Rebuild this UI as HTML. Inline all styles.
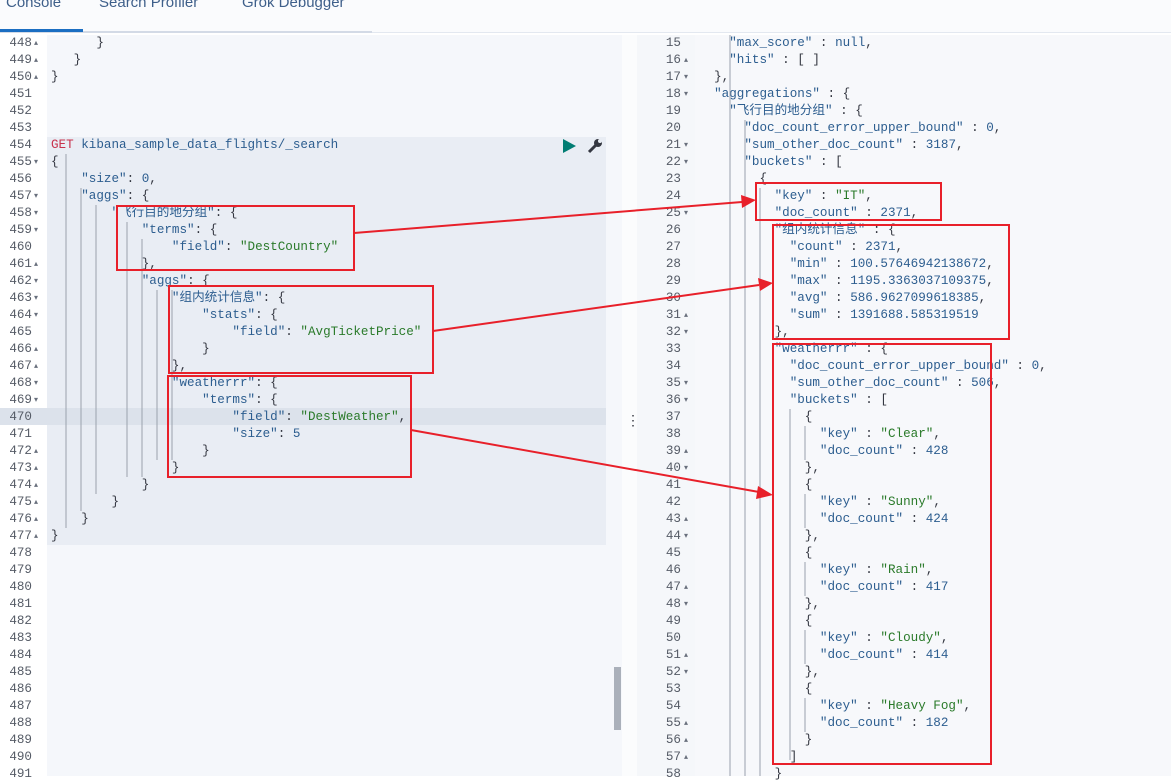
<!DOCTYPE html>
<html><head><meta charset="utf-8"><style>
body{margin:0;width:1171px;height:776px;overflow:hidden;background:#fff;position:relative;font-family:"Liberation Mono","Noto Sans CJK SC",monospace;}
.abs{position:absolute}
pre{margin:0;font-family:"Liberation Mono","Noto Sans CJK SC",monospace;font-size:12.6px;line-height:17px;color:#2c5d8f;position:absolute;white-space:pre}
.n{color:#555b66;text-align:right}
.s{color:#2a7a2a}
.g{color:#c8324d}
.p{color:#343741}
.tab{position:absolute;top:-6px;font-family:"Liberation Sans",sans-serif;font-size:15px;color:#3e5f8a}
</style></head><body>
<div class="abs" style="left:0;top:0;width:1171px;height:33px;background:#fafbfd"></div>
<div class="abs" style="left:0;top:31px;width:372px;height:2px;background:#d3dae6"></div>
<div class="abs" style="left:372px;top:32px;width:799px;height:1px;background:#e3e8f0"></div>
<div class="abs" style="left:0;top:29px;width:83px;height:3px;background:#1b6ec2"></div>
<div class="tab" style="left:6px">Console</div>
<div class="tab" style="left:99px">Search Profiler</div>
<div class="tab" style="left:242px">Grok Debugger</div>

<!-- left editor -->
<div class="abs" style="left:0;top:35px;width:47px;height:741px;background:#fff"></div>
<div class="abs" style="left:47px;top:35px;width:575px;height:741px;background:#f5f7fb"></div>
<div class="abs" style="left:47px;top:137px;width:559px;height:408px;background:#e9edf4"></div>
<div class="abs" style="left:0;top:408px;width:606px;height:17px;background:#dce2eb"></div>
<div class="abs" style="left:614px;top:667px;width:7px;height:63px;background:#aab0ba"></div>
<div class="abs" style="left:622px;top:35px;width:15px;height:741px;background:#fbfcfd"></div>
<div class="abs p" style="left:626px;top:412px;font-size:14px;font-family:'Liberation Sans',sans-serif">⋮</div>
<svg class="abs" style="left:560px;top:138px" width="50" height="18"><polygon points="3,1 3,15 16,8" fill="#017d73"/><path d="M29,14 L36,7" stroke="#343741" stroke-width="3"/><circle cx="38" cy="5" r="4" fill="#343741"/><circle cx="40" cy="3" r="2" fill="#e9edf4"/></svg>

<pre class="n" style="left:0;top:35px;width:32px">448
449
450
451
452
453
454
455
456
457
458
459
460
461
462
463
464
465
466
467
468
469
470
471
472
473
474
475
476
477
478
479
480
481
482
483
484
485
486
487
488
489
490
491</pre>
<pre style="left:34px;top:35px;font-size:8px;color:#69707d">▴
▴
▴



 
▾

▾
▾
▾

▴
▾
▾
▾

▴
▴
▾
▾


▴
▴
▴
▴
▴
▴</pre>
<pre class="p" style="left:51px;top:35px">      }
   }
}



<span class="g">GET</span> <span style="color:#2c5d8f">kibana_sample_data_flights/_search</span>
{
    <span style="color:#2c5d8f">"size"</span>: <span style="color:#2c5d8f">0</span>,
    <span style="color:#2c5d8f">"aggs"</span>: {
        <span style="color:#2c5d8f">"飞行目的地分组"</span>: {
            <span style="color:#2c5d8f">"terms"</span>: {
                <span style="color:#2c5d8f">"field"</span>: <span class="s">"DestCountry"</span>
            },
            <span style="color:#2c5d8f">"aggs"</span>: {
                <span style="color:#2c5d8f">"组内统计信息"</span>: {
                    <span style="color:#2c5d8f">"stats"</span>: {
                        <span style="color:#2c5d8f">"field"</span>: <span class="s">"AvgTicketPrice"</span>
                    }
                },
                <span style="color:#2c5d8f">"weatherrr"</span>: {
                    <span style="color:#2c5d8f">"terms"</span>: {
                        <span style="color:#2c5d8f">"field"</span>: <span class="s">"DestWeather"</span>,
                        <span style="color:#2c5d8f">"size"</span>: <span style="color:#2c5d8f">5</span>
                    }
                }
            }
        }
    }
}</pre>

<!-- right editor -->
<div class="abs" style="left:637px;top:35px;width:58px;height:741px;background:#f5f7fa"></div>
<div class="abs" style="left:695px;top:35px;width:476px;height:741px;background:#f7f8fb"></div>
<pre class="n" style="left:637px;top:35px;width:44px">15
16
17
18
19
20
21
22
23
24
25
26
27
28
29
30
31
32
33
34
35
36
37
38
39
40
41
42
43
44
45
46
47
48
49
50
51
52
53
54
55
56
57
58</pre>
<pre style="left:684px;top:35px;font-size:8px;color:#69707d">

▴
▾
▾


▾
▾


▾





▴
▾


▾
▾


▴
▾


▴
▾


▴
▾


▴
▾


▴
▴
▴</pre>
<pre class="p" style="left:699px;top:35px">    <span style="color:#2c5d8f">"max_score"</span> : <span style="color:#2c5d8f">null</span>,
    <span style="color:#2c5d8f">"hits"</span> : [ ]
  },
  <span style="color:#2c5d8f">"aggregations"</span> : {
    <span style="color:#2c5d8f">"飞行目的地分组"</span> : {
      <span style="color:#2c5d8f">"doc_count_error_upper_bound"</span> : <span style="color:#2c5d8f">0</span>,
      <span style="color:#2c5d8f">"sum_other_doc_count"</span> : <span style="color:#2c5d8f">3187</span>,
      <span style="color:#2c5d8f">"buckets"</span> : [
        {
          <span style="color:#2c5d8f">"key"</span> : <span class="s">"IT"</span>,
          <span style="color:#2c5d8f">"doc_count"</span> : <span style="color:#2c5d8f">2371</span>,
          <span style="color:#2c5d8f">"组内统计信息"</span> : {
            <span style="color:#2c5d8f">"count"</span> : <span style="color:#2c5d8f">2371</span>,
            <span style="color:#2c5d8f">"min"</span> : <span style="color:#2c5d8f">100.57646942138672</span>,
            <span style="color:#2c5d8f">"max"</span> : <span style="color:#2c5d8f">1195.3363037109375</span>,
            <span style="color:#2c5d8f">"avg"</span> : <span style="color:#2c5d8f">586.9627099618385</span>,
            <span style="color:#2c5d8f">"sum"</span> : <span style="color:#2c5d8f">1391688.585319519</span>
          },
          <span style="color:#2c5d8f">"weatherrr"</span> : {
            <span style="color:#2c5d8f">"doc_count_error_upper_bound"</span> : <span style="color:#2c5d8f">0</span>,
            <span style="color:#2c5d8f">"sum_other_doc_count"</span> : <span style="color:#2c5d8f">506</span>,
            <span style="color:#2c5d8f">"buckets"</span> : [
              {
                <span style="color:#2c5d8f">"key"</span> : <span class="s">"Clear"</span>,
                <span style="color:#2c5d8f">"doc_count"</span> : <span style="color:#2c5d8f">428</span>
              },
              {
                <span style="color:#2c5d8f">"key"</span> : <span class="s">"Sunny"</span>,
                <span style="color:#2c5d8f">"doc_count"</span> : <span style="color:#2c5d8f">424</span>
              },
              {
                <span style="color:#2c5d8f">"key"</span> : <span class="s">"Rain"</span>,
                <span style="color:#2c5d8f">"doc_count"</span> : <span style="color:#2c5d8f">417</span>
              },
              {
                <span style="color:#2c5d8f">"key"</span> : <span class="s">"Cloudy"</span>,
                <span style="color:#2c5d8f">"doc_count"</span> : <span style="color:#2c5d8f">414</span>
              },
              {
                <span style="color:#2c5d8f">"key"</span> : <span class="s">"Heavy Fog"</span>,
                <span style="color:#2c5d8f">"doc_count"</span> : <span style="color:#2c5d8f">182</span>
              }
            ]
          }</pre>

<svg class="abs" style="left:0;top:0" width="1171" height="776">
<g stroke="#9aa1ad" stroke-width="1">
<line x1="66" y1="154" x2="66" y2="528"/><line x1="81" y1="188" x2="81" y2="511"/><line x1="96" y1="205" x2="96" y2="494"/>
<line x1="127" y1="222" x2="127" y2="477"/><line x1="142" y1="239" x2="142" y2="477"/>
<line x1="157" y1="290" x2="157" y2="460"/><line x1="172" y1="290" x2="172" y2="460"/>
<line x1="730" y1="35" x2="730" y2="776"/><line x1="745" y1="120" x2="745" y2="776"/><line x1="760" y1="188" x2="760" y2="776"/>
<line x1="790" y1="409" x2="790" y2="760"/><line x1="805" y1="426" x2="805" y2="460"/><line x1="805" y1="494" x2="805" y2="528"/><line x1="805" y1="562" x2="805" y2="596"/><line x1="805" y1="630" x2="805" y2="664"/><line x1="805" y1="698" x2="805" y2="732"/>
</g>
<g fill="none" stroke="#e8202a" stroke-width="2">
<rect x="117" y="206" width="237" height="64"/>
<rect x="169" y="286" width="264" height="87"/>
<rect x="168" y="376" width="243" height="101"/>
<rect x="756" y="183" width="185" height="37"/>
<rect x="773" y="225" width="236" height="114"/>
<rect x="773" y="344" width="218" height="420"/>
<line x1="354" y1="233" x2="742" y2="202"/>
<line x1="433" y1="331" x2="759" y2="285"/>
<line x1="411" y1="430" x2="759" y2="492"/>
</g>
<g fill="#e8202a">
<polygon points="756,200 741,195 742,208"/>
<polygon points="773,283 758,278 760,291"/>
<polygon points="773,495 758,486 756,499"/>
</g>
</svg>
</body></html>
